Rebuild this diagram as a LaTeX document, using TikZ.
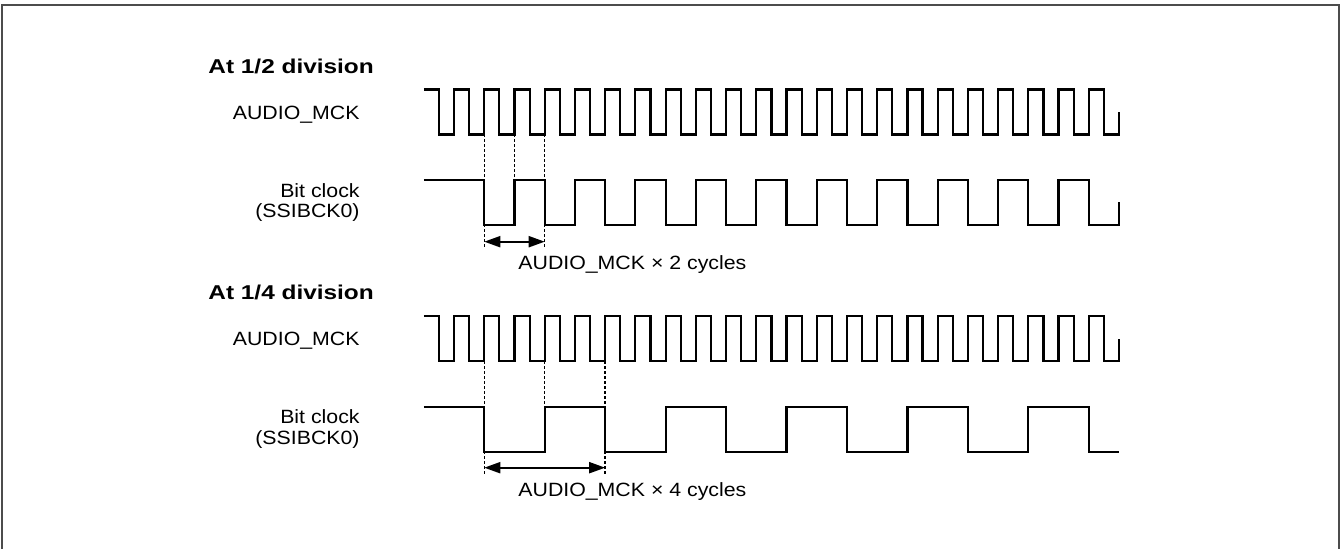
\documentclass[tikz,border=0pt]{standalone}
\usepackage{fontspec}
\setmainfont{Liberation Sans}[FakeStretch=1.11]
\newfontfamily\titlefont{Liberation Sans}[FakeStretch=1.22]
\usepackage{tikz}
\usetikzlibrary{arrows.meta,positioning}

\newcommand\mckhalf{15.114}
\tikzset{
  tim/frame/.style={draw=black!70, line width=1pt},
  tim/wave/.style={draw, line width=1.1pt},
  tim/guide/.style={draw, line width=0.7pt, dash pattern=on 1.5pt off 1pt},
  tim/span/.style={draw, line width=1pt, <->, >={Triangle[length=8pt,width=5.5pt]}},
  tim/title/.style={font=\titlefont\bfseries\fontsize{10}{12}\selectfont, inner sep=0pt},
  tim/signal/.style={font=\fontsize{9.6}{11}\selectfont, inner sep=0pt},
  tim/note/.style={tim/signal}
}

\begin{document}
\begin{tikzpicture}[x=0.5pt, y=-0.5pt]
  \useasboundingbox (0,0) rectangle (1341,549);
  \draw[tim/frame] (2,549) -- (2,4.7) -- (1338.7,4.7) -- (1338.7,549);

  % 1/2 division
  \node[tim/title, anchor=base west] (halftitle) at (208,73.3) {At 1/2 division};
  \node[tim/signal, anchor=base east] (halfmck) at (360,119.3) {AUDIO\_MCK};
  \node[tim/signal, anchor=base east] (halfbck) at (360,197.3) {Bit clock};
  \node[tim/signal, below=10.25pt of halfbck.base east, anchor=base east] (halfbckid) {(SSIBCK0)};

  \draw[tim/wave] (423.8,89.5)
    \foreach \k in {1,...,22} { -- ++(\mckhalf,0) -- ++(0,45) -- ++(\mckhalf,0) -- ++(0,-45) }
    -- ++(\mckhalf,0) -- ++(0,45) -- ++(\mckhalf,0) -- ++(0,-22.5);
  \draw[tim/wave] (423.8,180) -- ++(4*\mckhalf,0) -- ++(0,45)
    \foreach \k in {1,...,10} { -- ++(2*\mckhalf,0) -- ++(0,-45) -- ++(2*\mckhalf,0) -- ++(0,45) }
    -- ++(2*\mckhalf,0) -- ++(0,-22.5);

  \coordinate (halfg1) at (484.26,134.5);
  \coordinate (halfg2) at (514.48,134.5);
  \coordinate (halfg3) at (544.71,134.5);
  \coordinate (halfe1) at (484.26,248);
  \coordinate (halfe2) at (514.48,180);
  \coordinate (halfe3) at (544.71,248);
  \draw[tim/guide] (halfg1) -- (halfe1);
  \draw[tim/guide] (halfg2) -- (halfe2);
  \draw[tim/guide] (halfg3) -- (halfe3);
  \coordinate (halfa) at (484.26,241.7);
  \coordinate (halfb) at (544.71,241.7);
  \draw[tim/span] (halfa) -- (halfb);
  \node[tim/note, anchor=base west] (halfnote) at (518,269.3) {AUDIO\_MCK × 2 cycles};

  % 1/4 division
  \node[tim/title, anchor=base west] (quartitle) at (208,300) {At 1/4 division};
  \node[tim/signal, anchor=base east] (quarmck) at (360,346) {AUDIO\_MCK};
  \node[tim/signal, anchor=base east] (quarbck) at (360,424) {Bit clock};
  \node[tim/signal, below=10.25pt of quarbck.base east, anchor=base east] (quarbckid) {(SSIBCK0)};

  \draw[tim/wave] (423.8,316.2)
    \foreach \k in {1,...,22} { -- ++(\mckhalf,0) -- ++(0,45) -- ++(\mckhalf,0) -- ++(0,-45) }
    -- ++(\mckhalf,0) -- ++(0,45) -- ++(\mckhalf,0) -- ++(0,-22.5);
  \draw[tim/wave] (423.8,406.7) -- ++(4*\mckhalf,0) -- ++(0,45)
    \foreach \k in {1,...,5} { -- ++(4*\mckhalf,0) -- ++(0,-45) -- ++(4*\mckhalf,0) -- ++(0,45) }
    -- ++(2*\mckhalf,0);

  \coordinate (quarg1) at (484.26,361.2);
  \coordinate (quarg2) at (544.71,361.2);
  \coordinate (quarg3) at (605.17,361.2);
  \coordinate (quare1) at (484.26,475);
  \coordinate (quare2) at (544.71,406.7);
  \coordinate (quare3) at (605.17,475);
  \draw[tim/guide] (quarg1) -- (quare1);
  \draw[tim/guide] (quarg2) -- (quare2);
  \draw[tim/guide] (quarg3) -- (quare3);
  \coordinate (quara) at (484.26,467.7);
  \coordinate (quarb) at (605.17,467.7);
  \draw[tim/span] (quara) -- (quarb);
  \node[tim/note, anchor=base west] (quarnote) at (518,496.3) {AUDIO\_MCK × 4 cycles};
\end{tikzpicture}
\end{document}
